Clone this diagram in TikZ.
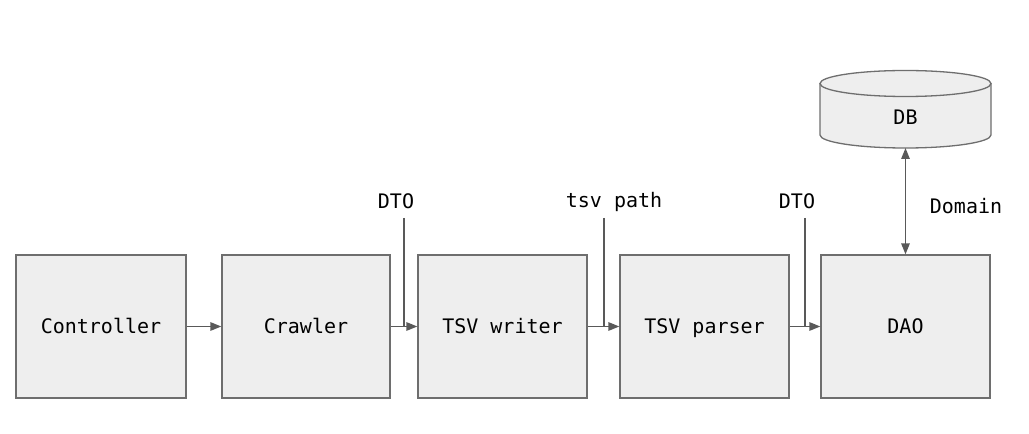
\documentclass[tikz,border=0pt]{standalone}
\usepackage{fontspec}
\setmainfont{DejaVu Sans Mono}
\usetikzlibrary{arrows.meta}
\definecolor{boxfill}{HTML}{EEEEEE}
\definecolor{boxline}{HTML}{6E6E6E}
\definecolor{arrowc}{HTML}{595959}
\begin{document}
\begin{tikzpicture}[x=1pt,y=1pt,
  block/.style={draw=boxline,fill=boxfill,line width=1.3pt,minimum height=143pt,inner sep=0pt,text height=18pt,text depth=3pt,font=\fontsize{20}{24}\selectfont},
  lbl/.style={font=\fontsize{20}{24}\selectfont,inner sep=0pt},
  conn/.style={draw=arrowc,line width=1.4pt},
  arr/.style={conn,-{Triangle[length=11pt,width=8.5pt]}},
  darr/.style={conn,{Triangle[length=11pt,width=8.5pt]}-{Triangle[length=11pt,width=8.5pt]}}]
\useasboundingbox (0,0) rectangle (1029,434);
\node[block,minimum width=170pt] (ctrl) at (101,107.5) {Controller};
\node[block,minimum width=168pt] (crawl) at (306,107.5) {Crawler};
\node[block,minimum width=169pt] (tsvw) at (502.5,107.5) {TSV writer};
\node[block,minimum width=169pt] (tsvp) at (704.5,107.5) {TSV parser};
\node[block,minimum width=169pt] (dao) at (905.5,107.5) {DAO};
% DB cylinder
\fill[boxfill] (820,350.5) -- (820,299) arc[start angle=180,end angle=360,x radius=85.5,y radius=13] -- (991,350.5) -- cycle;
\draw[boxline,line width=1.3pt] (820,350.5) -- (820,299) arc[start angle=180,end angle=360,x radius=85.5,y radius=13] -- (991,350.5);
\draw[boxline,fill=boxfill,line width=1.3pt] (905.5,350.5) ellipse[x radius=85.5,y radius=13];
\node[lbl] (db) at (905.5,317) {DB};
\coordinate (dbbot) at (905.5,286);
% labels
\node[lbl] (dto1) at (396,233) {DTO};
\node[lbl] (tsvpath) at (614,232) {tsv path};
\node[lbl] (dto2) at (797,233) {DTO};
\node[lbl] (domain) at (966,228) {Domain};
\coordinate (v1) at (404,216);
\coordinate (v2) at (604,216);
\coordinate (v3) at (805,216);
% connectors
\draw[arr] (ctrl.east) -- (crawl.west);
\draw[arr] (crawl.east) -- (tsvw.west);
\draw[arr] (tsvw.east) -- (tsvp.west);
\draw[arr] (tsvp.east) -- (dao.west);
\draw[conn] (v1) -- (v1 |- crawl.east);
\draw[conn] (v2) -- (v2 |- tsvw.east);
\draw[conn] (v3) -- (v3 |- tsvp.east);
\draw[darr] (dbbot) -- (dao.north);
\end{tikzpicture}
\end{document}
